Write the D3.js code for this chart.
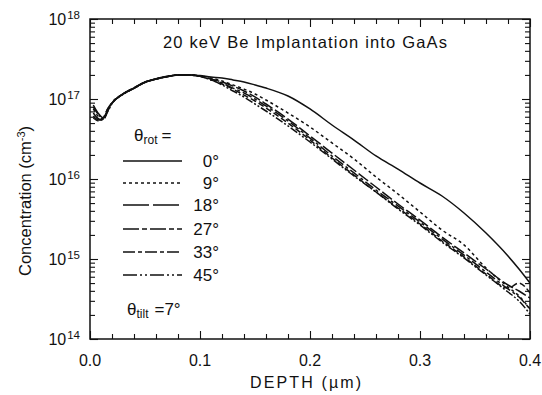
<!DOCTYPE html>
<html><head><meta charset="utf-8">
<script src="https://cdn.jsdelivr.net/npm/d3@7"></script>
<style>
body{margin:0;background:#fff}
svg{display:block}
text{font-family:"Liberation Sans",Arial,Helvetica,sans-serif;fill:#111}
</style>
</head><body>
<svg id="c" width="542" height="395"></svg>
<script>
// ---------- data (depth in µm, concentration in cm^-3) ----------
const depth = [0.003, 0.008, 0.012, 0.016, 0.02, 0.03, 0.04, 0.05, 0.06, 0.07, 0.08, 0.09, 0.10,
  0.11, 0.12, 0.13, 0.14, 0.15, 0.16, 0.18, 0.20, 0.22, 0.24, 0.26, 0.28, 0.30, 0.32, 0.34, 0.36, 0.38, 0.39, 0.40];

const conc0 = [8.41e16, 6.49e16, 5.79e16, 7.29e16, 8.9e16, 1.16e17, 1.38e17, 1.63e17, 1.79e17, 1.92e17, 2.0e17, 2.01e17, 1.96e17,
  1.88e17, 1.83e17, 1.73e17, 1.63e17, 1.50e17, 1.37e17, 1.09e17, 7.5e16, 4.73e16, 3.07e16, 1.94e16, 1.33e16, 8.91e15, 6.13e15, 3.76e15, 2.11e15, 1.09e15, 7.5e14, 5.0e14];
const conc9 = [7.5e16, 5.96e16, 5.62e16, 7.08e16, 8.9e16, 1.15e17, 1.37e17, 1.62e17, 1.78e17, 1.91e17, 2.0e17, 2.0e17, 1.94e17,
  1.83e17, 1.68e17, 1.50e17, 1.33e17, 1.155e17, 9.72e16, 6.68e16, 4.47e16, 2.82e16, 1.78e16, 1.06e16, 6.49e15, 3.87e15, 2.30e15, 1.50e15, 7.72e14, 4.47e14, 3.45e14, 2.37e14];
const conc18 = [6.68e16, 5.62e16, 5.46e16, 7.08e16, 8.8e16, 1.15e17, 1.37e17, 1.62e17, 1.78e17, 1.90e17, 1.99e17, 1.99e17, 1.93e17,
  1.78e17, 1.63e17, 1.45e17, 1.26e17, 1.06e17, 8.66e16, 5.62e16, 3.45e16, 2.11e16, 1.295e16, 7.94e15, 4.87e15, 3.07e15, 1.88e15, 1.19e15, 7.5e14, 4.73e14, 3.98e14, 3.25e14];
const conc27 = [6.13e16, 5.46e16, 5.62e16, 7.5e16, 9.0e16, 1.16e17, 1.37e17, 1.63e17, 1.78e17, 1.91e17, 2.0e17, 1.99e17, 1.93e17,
  1.78e17, 1.585e17, 1.37e17, 1.19e17, 1.0e17, 8.18e16, 5.31e16, 3.25e16, 1.94e16, 1.19e16, 7.29e15, 4.60e15, 2.90e15, 1.78e15, 1.12e15, 6.88e14, 4.22e14, 3.35e14, 2.37e14];
const conc33 = [5.79e16, 5.31e16, 5.79e16, 7.5e16, 8.9e16, 1.15e17, 1.36e17, 1.62e17, 1.77e17, 1.90e17, 1.99e17, 1.99e17, 1.92e17,
  1.73e17, 1.54e17, 1.33e17, 1.12e17, 9.44e16, 7.72e16, 5.01e16, 3.07e16, 1.83e16, 1.12e16, 6.88e15, 4.34e15, 2.74e15, 1.68e15, 1.06e15, 6.49e14, 4.34e14, 5.0e14, 3.76e14];
const conc45 = [7.94e16, 6.31e16, 5.62e16, 6.88e16, 8.8e16, 1.14e17, 1.36e17, 1.61e17, 1.77e17, 1.90e17, 1.99e17, 1.98e17, 1.92e17,
  1.73e17, 1.50e17, 1.26e17, 1.06e17, 8.66e16, 7.08e16, 4.60e16, 2.90e16, 1.78e16, 1.09e16, 6.88e15, 4.22e15, 2.66e15, 1.63e15, 1.03e15, 6.31e14, 3.87e14, 2.98e14, 2.05e14];

const rotLabels = ["0°", "9°", "18°", "27°", "33°", "45°"];
const xTicks = [0, 0.1, 0.2, 0.3, 0.4];
const xTickLabels = ["0.0", "0.1", "0.2", "0.3", "0.4"];
const yTickExps = [14, 15, 16, 17, 18];
const titleText = "20 keV Be Implantation into GaAs";

// ---------- styles ----------
const dashStyles = [null, "3,3", "12,3", "10,3,3,3", "6,3", "8,2,2,2,2,2"];
const legendDash = [null, "3,3", "26,4", "16,3,5,3", "12,3,4,3", "14,3,2,3,2,3"];

const series = [conc0, conc9, conc18, conc27, conc33, conc45];

const L = 90, R = 530, T = 19, B = 339;
const x = d3.scaleLinear().domain([0, 0.4]).range([L, R]);
const y = d3.scaleLog().domain([1e14, 1e18]).range([B, T]);

const svg = d3.select("#c");
const ink = "#111";

// curves
svg.append("clipPath").attr("id", "pc").append("rect")
  .attr("x", L).attr("y", T).attr("width", R - L).attr("height", B - T);
const line = d3.line().x((d, i) => x(depth[i])).y(d => y(d)).curve(d3.curveMonotoneX);
svg.append("g").attr("clip-path", "url(#pc)")
  .selectAll("path").data(series).join("path")
  .attr("d", d => line(d))
  .attr("fill", "none").attr("stroke", ink).attr("stroke-width", 1.5)
  .attr("stroke-dasharray", (d, i) => dashStyles[i]);

// ticks
const xMinor = d3.range(0, 0.4001, 0.02).filter(v => Math.abs(v * 10 - Math.round(v * 10)) > 1e-6);
const yMinor = [];
for (let e = 14; e < 18; e++) for (let k = 2; k <= 9; k++) yMinor.push(k * Math.pow(10, e));
const yMajor = yTickExps.map(e => Math.pow(10, e));

function styleAxis(g) {
  g.select(".domain").remove();
  g.selectAll("line").attr("stroke", ink).attr("stroke-width", 1.1);
  g.selectAll("text").remove();
}
svg.append("g").attr("transform", `translate(0,${B})`).call(d3.axisBottom(x).tickValues(xTicks).tickSize(-8)).call(styleAxis);
svg.append("g").attr("transform", `translate(0,${B})`).call(d3.axisBottom(x).tickValues(xMinor).tickSize(-5)).call(styleAxis);
svg.append("g").attr("transform", `translate(0,${T})`).call(d3.axisTop(x).tickValues(xTicks).tickSize(-8)).call(styleAxis);
svg.append("g").attr("transform", `translate(0,${T})`).call(d3.axisTop(x).tickValues(xMinor).tickSize(-5)).call(styleAxis);
svg.append("g").attr("transform", `translate(${L},0)`).call(d3.axisLeft(y).tickValues(yMajor).tickSize(-8)).call(styleAxis);
svg.append("g").attr("transform", `translate(${L},0)`).call(d3.axisLeft(y).tickValues(yMinor).tickSize(-5)).call(styleAxis);
svg.append("g").attr("transform", `translate(${R},0)`).call(d3.axisRight(y).tickValues(yMajor).tickSize(-8)).call(styleAxis);
svg.append("g").attr("transform", `translate(${R},0)`).call(d3.axisRight(y).tickValues(yMinor).tickSize(-5)).call(styleAxis);

// frame
svg.append("rect").attr("x", L).attr("y", T).attr("width", R - L).attr("height", B - T)
  .attr("fill", "none").attr("stroke", ink).attr("stroke-width", 1.5);

// x tick labels
svg.append("g").selectAll("text").data(xTicks).join("text")
  .attr("x", d => x(d)).attr("y", 366).attr("text-anchor", "middle")
  .attr("font-size", 16).text((d, i) => xTickLabels[i]);

// y tick labels with superscript
const yl = svg.append("g").selectAll("text").data(yTickExps).join("text")
  .attr("x", 80).attr("y", d => y(Math.pow(10, d)) + 6).attr("text-anchor", "end").attr("font-size", 16);
yl.append("tspan").text("10");
yl.append("tspan").attr("font-size", 11.5).attr("dy", -6).attr("dx", 1).text(d => String(d));

// axis titles
svg.append("text").attr("x", 250).attr("y", 388).attr("font-size", 16)
  .attr("textLength", 111).attr("lengthAdjust", "spacing").text("DEPTH (µm)");

const yt = svg.append("text").attr("transform", "translate(31,276) rotate(-90)").attr("font-size", 16.5);
yt.append("tspan").text("Concentration (cm");
yt.append("tspan").attr("font-size", 11).attr("dy", -6).text("-3");
yt.append("tspan").attr("dy", 6).text(")");

// title
svg.append("text").attr("x", 163).attr("y", 48).attr("font-size", 16.5)
  .attr("textLength", 284).attr("lengthAdjust", "spacing").text(titleText);

// legend
const rot = svg.append("text").attr("x", 134).attr("y", 141).attr("font-size", 17);
rot.append("tspan").text("θ");
rot.append("tspan").attr("font-size", 12).attr("dy", 3).text("rot");
rot.append("tspan").attr("dy", -3).attr("dx", 4).text("=");

const rowY = [161, 183, 205, 229, 252, 275];
const lg = svg.append("g").selectAll("g").data(rotLabels).join("g");
lg.append("line").attr("x1", 123).attr("x2", 182)
  .attr("y1", (d, i) => rowY[i]).attr("y2", (d, i) => rowY[i])
  .attr("stroke", ink).attr("stroke-width", 1.4)
  .attr("stroke-dasharray", (d, i) => legendDash[i]);
lg.append("text").attr("x", 219).attr("y", (d, i) => rowY[i] + 6)
  .attr("text-anchor", "end").attr("font-size", 17).text(d => d);

const tilt = svg.append("text").attr("x", 127).attr("y", 315).attr("font-size", 17);
tilt.append("tspan").text("θ");
tilt.append("tspan").attr("font-size", 12).attr("dy", 3).text("tilt");
tilt.append("tspan").attr("dy", -3).attr("dx", 6).text("=7°");
</script>
</body></html>
